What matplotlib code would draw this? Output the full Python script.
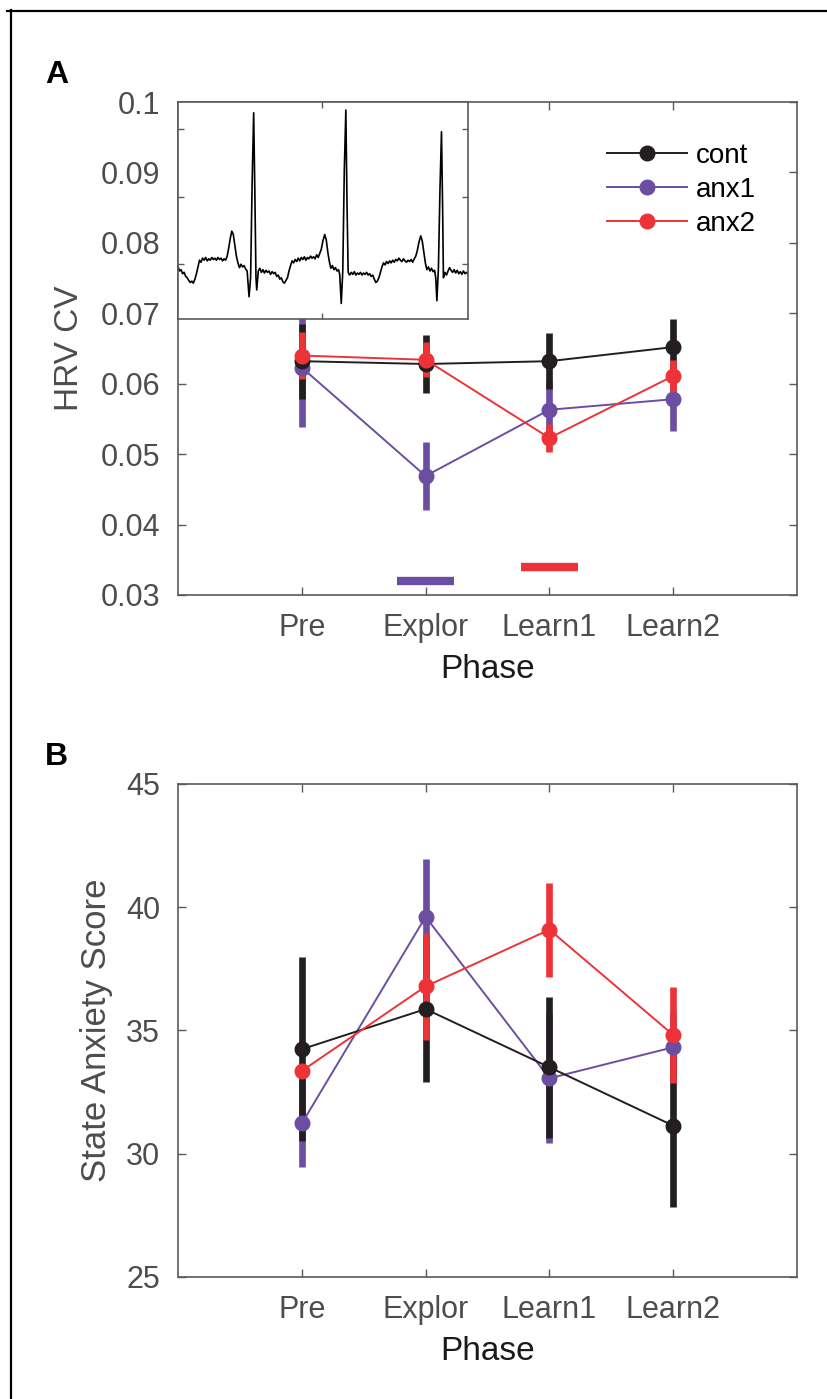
# HRV CV and state anxiety by phase (A: with ECG inset, B: state anxiety)
import matplotlib
matplotlib.use("Agg")
import matplotlib.pyplot as plt
from matplotlib.lines import Line2D

plt.rcParams['font.family'] = ['Liberation Sans', 'DejaVu Sans']

# ---- data ----
phases = ['Pre', 'Explor', 'Learn1', 'Learn2']
groups = ['cont', 'anx1', 'anx2']

hrv_cont = [0.0632, 0.0628, 0.0632, 0.0652]
hrv_cont_err = [0.0053, 0.0041, 0.0040, 0.0040]
hrv_anx1 = [0.0623, 0.0469, 0.0563, 0.0578]
hrv_anx1_err = [0.0084, 0.0048, 0.0040, 0.0045]
hrv_anx2 = [0.0640, 0.0634, 0.0523, 0.0611]
hrv_anx2_err = [0.0034, 0.0025, 0.0020, 0.0023]

# significance markers (phase index, height) in panel A
sig_anx1 = (2, 0.0320)
sig_anx2 = (3, 0.0340)

stai_cont = [34.24, 35.87, 33.51, 31.14]
stai_cont_err = [3.73, 2.94, 2.86, 3.29]
stai_anx1 = [31.23, 39.61, 33.06, 34.32]
stai_anx1_err = [1.76, 2.36, 2.64, 1.40]
stai_anx2 = [33.36, 36.79, 39.09, 34.82]
stai_anx2_err = [0.25, 2.17, 1.91, 1.96]

# example ECG trace for the inset (time in ms, amplitude in mV)
ecg_t = [0, 16, 32, 48, 64, 80, 96, 112, 128, 144, 160, 176, 192, 208, 224, 240,
         256, 272, 288, 304, 320, 336, 352, 368, 384, 400, 416, 432, 448, 464, 480,
         496, 512, 528, 544, 560, 576, 592, 608, 624, 640, 656, 672, 688, 704, 720,
         740, 756, 772, 788, 800, 812, 820, 836, 852, 868, 884, 900, 916, 932, 948,
         964, 980, 996, 1012, 1028, 1044, 1060, 1076, 1092, 1108, 1124, 1140, 1156,
         1172, 1188, 1204, 1220, 1236, 1252, 1268, 1284, 1300, 1316, 1332, 1348,
         1364, 1380, 1396, 1412, 1428, 1444, 1460, 1476, 1492, 1508, 1528, 1544,
         1560, 1576, 1592, 1608, 1624, 1640, 1656, 1672, 1684, 1700, 1716, 1732,
         1748, 1760, 1772, 1788, 1804, 1820, 1836, 1852, 1868, 1884, 1900, 1916,
         1932, 1948, 1964, 1980, 1996, 2012, 2028, 2044, 2060, 2076, 2092, 2108,
         2124, 2140, 2156, 2172, 2188, 2204, 2220, 2236, 2252, 2268, 2284, 2300,
         2316, 2332, 2348, 2364, 2380, 2396, 2412, 2428, 2444, 2460, 2476, 2492,
         2508, 2528, 2544, 2560, 2576, 2592, 2608, 2624, 2640, 2656, 2672, 2684,
         2696, 2712, 2728, 2744, 2756, 2764, 2780, 2796, 2812, 2828, 2844, 2860,
         2876, 2892, 2908, 2924, 2940, 2956, 2972, 2988, 3004, 3020]
ecg_v = [-0.03, -0.10, -0.08, -0.14, -0.12, -0.18, -0.20, -0.24, -0.27, -0.25,
         -0.28, -0.22, -0.14, -0.04, 0.06, 0.03, 0.09, 0.06, 0.10, 0.05, 0.08,
         0.06, 0.10, 0.07, 0.09, 0.06, 0.10, 0.07, 0.09, 0.05, 0.08, 0.06, 0.12,
         0.24, 0.38, 0.49, 0.44, 0.28, 0.12, 0.02, -0.05, 0.00, -0.04, -0.02,
         -0.07, -0.10, -0.48, -0.20, 1.20, 2.24, 1.10, -0.20, -0.38, -0.10, -0.06,
         -0.12, -0.08, -0.13, -0.09, -0.12, -0.10, -0.15, -0.11, -0.14, -0.12,
         -0.18, -0.16, -0.22, -0.20, -0.26, -0.28, -0.24, -0.20, -0.10, -0.02,
         0.05, 0.02, 0.07, 0.04, 0.09, 0.05, 0.10, 0.07, 0.11, 0.06, 0.10, 0.08,
         0.12, 0.09, 0.11, 0.08, 0.14, 0.10, 0.16, 0.22, 0.34, 0.44, 0.36, 0.18,
         0.04, -0.06, -0.02, -0.08, -0.05, -0.10, -0.08, -0.15, -0.58, -0.10,
         1.40, 2.28, 0.90, -0.12, -0.16, -0.12, -0.15, -0.11, -0.16, -0.13,
         -0.15, -0.12, -0.16, -0.13, -0.15, -0.12, -0.16, -0.14, -0.18, -0.16,
         -0.22, -0.27, -0.25, -0.20, -0.12, -0.04, 0.02, -0.01, 0.04, 0.01, 0.05,
         0.02, 0.06, 0.03, 0.07, 0.05, 0.09, 0.06, 0.04, 0.08, 0.05, 0.03, 0.06,
         0.04, 0.07, 0.03, 0.08, 0.12, 0.20, 0.32, 0.42, 0.34, 0.18, 0.02, -0.08,
         -0.04, -0.10, -0.06, -0.11, -0.09, -0.20, -0.54, -0.05, 1.10, 1.96,
         0.80, -0.20, -0.12, -0.16, -0.10, -0.05, -0.09, -0.12, -0.08, -0.13,
         -0.09, -0.14, -0.11, -0.15, -0.10, -0.14, -0.12, -0.14]

colors = {'cont': '#231f20', 'anx1': '#6b4ea2', 'anx2': '#ee3338'}
spine_col = '#5a5a5a'
tick_col = '#4d4d4d'

fig = plt.figure(figsize=(8.27, 13.99), dpi=100)

# frame lines on top/left of the figure
fig.add_artist(Line2D([7 / 827, 1], [1 - 11 / 1399] * 2, transform=fig.transFigure,
                      color='black', lw=1.6))
fig.add_artist(Line2D([11 / 827] * 2, [0, 1 - 10 / 1399], transform=fig.transFigure,
                      color='black', lw=1.6))


def style_axes(ax):
    for s in ax.spines.values():
        s.set_color(spine_col)
        s.set_linewidth(1.2)
    ax.tick_params(direction='in', length=6, width=1.0, color=spine_col,
                   top=True, right=True, labelsize=22, labelcolor=tick_col)
    ax.tick_params(axis='y', pad=13)
    ax.tick_params(axis='x', pad=13)


def draw_groups(ax, means, errs):
    x = list(range(1, len(phases) + 1))
    # error bars first (anx1 under cont under anx2), then lines + markers
    order = ['anx1', 'cont', 'anx2']
    for i, g in enumerate(order):
        ax.errorbar(x, means[g], yerr=errs[g], fmt='none', ecolor=colors[g],
                    elinewidth=4.8, capsize=0, zorder=2 + i * 0.1)
    handles = {}
    for i, g in enumerate(order):
        h, = ax.plot(x, means[g], '-o', color=colors[g], lw=1.4, ms=10.5,
                     zorder=3 + i * 0.1, label=g)
        handles[g] = h
    return handles


# ---- panel A ----
axA = fig.add_axes([178 / 827, 1 - 595 / 1399, 619 / 827, 493 / 1399])
hA = draw_groups(axA,
                 {'cont': hrv_cont, 'anx1': hrv_anx1, 'anx2': hrv_anx2},
                 {'cont': hrv_cont_err, 'anx1': hrv_anx1_err, 'anx2': hrv_anx2_err})
axA.hlines(sig_anx1[1], sig_anx1[0] - 0.23, sig_anx1[0] + 0.23,
           color=colors['anx1'], lw=6)
axA.hlines(sig_anx2[1], sig_anx2[0] - 0.23, sig_anx2[0] + 0.23,
           color=colors['anx2'], lw=6)
axA.set_xlim(0, 5)
axA.set_ylim(0.03, 0.1)
axA.set_xticks(range(1, 5))
axA.set_xticklabels(phases)
axA.set_yticks([0.03, 0.04, 0.05, 0.06, 0.07, 0.08, 0.09, 0.1])
axA.set_yticklabels(['0.03', '0.04', '0.05', '0.06', '0.07', '0.08', '0.09', '0.1'])
style_axes(axA)
axA.set_xlabel('Phase', fontsize=24, color='#1a1a1a', labelpad=8)
axA.set_ylabel('HRV CV', fontsize=24, color=tick_col, labelpad=11)
axA.legend([hA[g] for g in groups], groups, loc='upper left',
           bbox_to_anchor=(0.67, 0.946), frameon=False, fontsize=20,
           handlelength=2.9, handletextpad=0.3, labelspacing=0.3, borderpad=0)
fig.text(45 / 827, 1 - 75 / 1399, 'A', fontsize=23, fontweight='bold', va='center')

# inset ECG
axI = fig.add_axes([178 / 827, 1 - 319 / 1399, 290 / 827, 217 / 1399])
axI.plot(ecg_t, ecg_v, color='black', lw=1.2)
axI.set_xlim(0, 3020)
axI.set_ylim(-0.81, 2.40)
axI.set_xticks([1500])
axI.set_yticks([0, 1, 2])
axI.tick_params(direction='in', length=4, width=1.0, color=spine_col,
                top=True, right=True, labelbottom=False, labelleft=False)
for s in axI.spines.values():
    s.set_color(spine_col)
    s.set_linewidth(1.2)
axI.set_zorder(5)

# ---- panel B ----
axB = fig.add_axes([178 / 827, 1 - 1277 / 1399, 619 / 827, 493 / 1399])
draw_groups(axB,
            {'cont': stai_cont, 'anx1': stai_anx1, 'anx2': stai_anx2},
            {'cont': stai_cont_err, 'anx1': stai_anx1_err, 'anx2': stai_anx2_err})
axB.set_xlim(0, 5)
axB.set_ylim(25, 45)
axB.set_xticks(range(1, 5))
axB.set_xticklabels(phases)
axB.set_yticks([25, 30, 35, 40, 45])
style_axes(axB)
axB.set_xlabel('Phase', fontsize=24, color='#1a1a1a', labelpad=8)
axB.set_ylabel('State Anxiety Score', fontsize=25, color=tick_col, labelpad=9)
fig.text(45 / 827, 1 - 757 / 1399, 'B', fontsize=23, fontweight='bold', va='center')

fig.savefig('out.png', dpi=100)
